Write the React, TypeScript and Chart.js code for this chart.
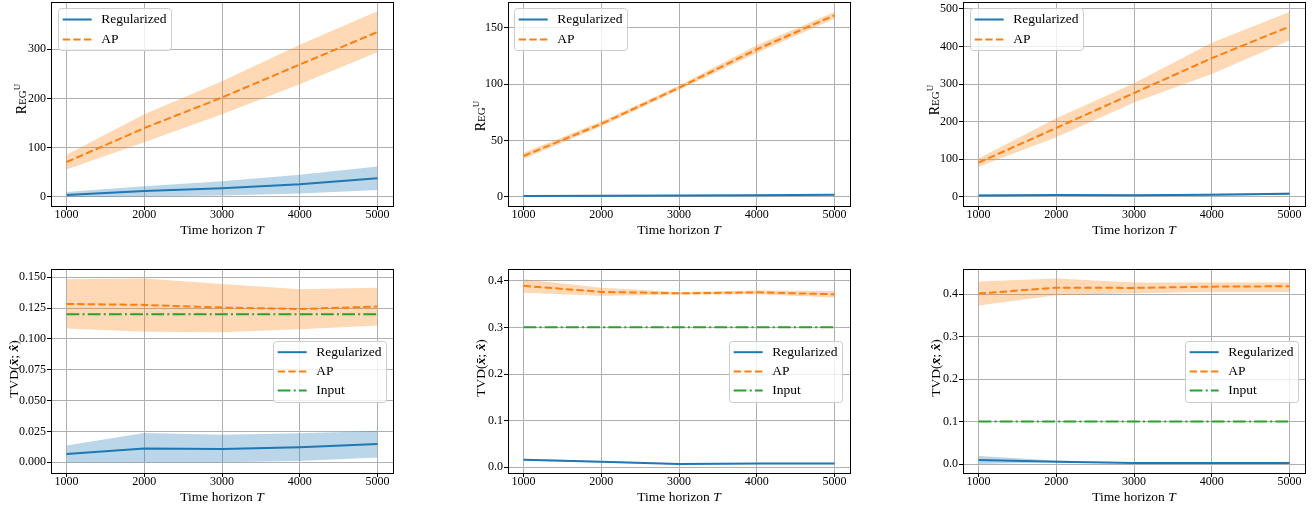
import React, { useEffect, useRef } from "react";
import { Chart, registerables } from "chart.js";
Chart.register(...registerables);

// ---------------- data ----------------
const horizons = [1000, 2000, 3000, 4000, 5000];
const xTickValues = [1000, 2000, 3000, 4000, 5000];

// Panel 1 (regret)
const reg1Mean = [4, 12, 18, 26, 38];
const reg1Lo = [0, 1, 3, 7, 14];
const reg1Hi = [10, 22, 32, 45, 62];
const ap1Mean = [71, 140, 202, 269, 335];
const ap1Lo = [56, 111, 168, 229, 294];
const ap1Hi = [86, 168, 235, 309, 377];
const yTicks1 = [0, 100, 200, 300];

// Panel 2 (regret)
const reg2Mean = [0.8, 1.0, 1.2, 1.6, 2.0];
const reg2Lo = [0.3, 0.5, 0.7, 1.0, 1.3];
const reg2Hi = [1.3, 1.5, 1.7, 2.2, 2.7];
const ap2Mean = [36.3, 64.7, 96.8, 130.8, 161];
const ap2Lo = [33.6, 62.6, 94.8, 127.5, 157.9];
const ap2Hi = [39.3, 66.8, 98.8, 134.4, 163.9];
const yTicks2 = [0, 50, 100, 150];

// Panel 3 (regret)
const reg3Mean = [3, 4.5, 3.6, 5, 8];
const reg3Lo = [0.5, 2, 1.5, 2.5, 5];
const reg3Hi = [5.5, 7, 5.7, 7.5, 11];
const ap3Mean = [90.6, 183, 276, 369, 453];
const ap3Lo = [80, 158, 251, 327, 416];
const ap3Hi = [102, 209, 302, 410, 492];
const yTicks3 = [0, 100, 200, 300, 400, 500];

// Panel 4 (TVD)
const reg4Mean = [0.0068, 0.0111, 0.0108, 0.0122, 0.0149];
const reg4Lo = [0.0, 0.0, 0.0, 0.0011, 0.0038];
const reg4Hi = [0.0135, 0.0238, 0.0224, 0.0235, 0.0254];
const ap4Mean = [0.1284, 0.1276, 0.1254, 0.1243, 0.1262];
const ap4Lo = [0.1084, 0.1059, 0.1054, 0.1078, 0.1108];
const ap4Hi = [0.1484, 0.1489, 0.1446, 0.1403, 0.1414];
const input4 = [0.12, 0.12, 0.12, 0.12, 0.12];
const yTicks4 = [0, 0.025, 0.05, 0.075, 0.1, 0.125, 0.15];

// Panel 5 (TVD)
const reg5Mean = [0.0164, 0.012, 0.007, 0.0079, 0.0079];
const reg5Lo = [0.0145, 0.0105, 0.006, 0.0068, 0.0068];
const reg5Hi = [0.0183, 0.0135, 0.008, 0.009, 0.009];
const ap5Mean = [0.389, 0.376, 0.373, 0.375, 0.371];
const ap5Lo = [0.374, 0.368, 0.37, 0.371, 0.364];
const ap5Hi = [0.403, 0.385, 0.376, 0.379, 0.378];
const input5 = [0.3, 0.3, 0.3, 0.3, 0.3];
const yTicks5 = [0, 0.1, 0.2, 0.3, 0.4];

// Panel 6 (TVD)
const reg6Mean = [0.0094, 0.0055, 0.0024, 0.0024, 0.0024];
const reg6Lo = [0.0, 0.004, 0.0015, 0.0015, 0.0015];
const reg6Hi = [0.0189, 0.008, 0.0033, 0.0033, 0.0033];
const ap6Mean = [0.4016, 0.4157, 0.415, 0.418, 0.419];
const ap6Lo = [0.3733, 0.3976, 0.4024, 0.4055, 0.4055];
const ap6Hi = [0.43, 0.437, 0.4275, 0.4275, 0.4275];
const input6 = [0.1, 0.1, 0.1, 0.1, 0.1];
const yTicks6 = [0, 0.1, 0.2, 0.3, 0.4];

const seriesLabels = ["Regularized", "AP", "Input"];
const xTitleMain = "Time horizon ";
const xTitleVar = "T";

// ---------------- styles ----------------
const FONT = '"Liberation Serif", "Times New Roman", serif';
const BLUE = "#1f77b4";
const ORANGE = "#ff7f0e";
const GREEN = "#2ca02c";
const BLUE_BAND = "rgba(31,119,180,0.3)";
const ORANGE_BAND = "rgba(255,127,14,0.3)";
const DASH = [7.4, 3.2];
const DASHDOT = [12.8, 3.2, 2, 3.2];
const AREA_W = 342;
const AREA_H = 204;
const XAXIS_H = 36;
const PAD_RIGHT = 3;

type Legend = { x: number; y: number; w: number; h: number; rowY: number[] };
type Panel = {
  left: number;
  top: number;
  yAxisW: number;
  padTop: number;
  yMin: number;
  yMax: number;
  yTicks: number[];
  dec: number;
  reg: number[][];
  ap: number[][];
  input: number[] | null;
  yLabel: "reg" | "tvd";
  yLabelX: number;
  yLabelY: number;
  legend: Legend;
};

const panels: Panel[] = [
  { left: 0, top: 0, yAxisW: 51, padTop: 2, yMin: -18.3, yMax: 396, yTicks: yTicks1, dec: 0,
    reg: [reg1Lo, reg1Mean, reg1Hi], ap: [ap1Lo, ap1Mean, ap1Hi], input: null,
    yLabel: "reg", yLabelX: 26, yLabelY: 99, legend: { x: 58, y: 8, w: 113, h: 42, rowY: [11, 31] } },
  { left: 440, top: 0, yAxisW: 68, padTop: 2, yMin: -8.0, yMax: 172.8, yTicks: yTicks2, dec: 0,
    reg: [reg2Lo, reg2Mean, reg2Hi], ap: [ap2Lo, ap2Mean, ap2Hi], input: null,
    yLabel: "reg", yLabelX: 485, yLabelY: 116, legend: { x: 514, y: 8, w: 113, h: 42, rowY: [11, 31] } },
  { left: 880, top: 0, yAxisW: 83, padTop: 2, yMin: -24.8, yMax: 518.6, yTicks: yTicks3, dec: 0,
    reg: [reg3Lo, reg3Mean, reg3Hi], ap: [ap3Lo, ap3Mean, ap3Hi], input: null,
    yLabel: "reg", yLabelX: 939, yLabelY: 100, legend: { x: 970, y: 8, w: 113, h: 42, rowY: [11, 31] } },
  { left: 0, top: 256, yAxisW: 51, padTop: 13, yMin: -0.0087, yMax: 0.1567, yTicks: yTicks4, dec: 3,
    reg: [reg4Lo, reg4Mean, reg4Hi], ap: [ap4Lo, ap4Mean, ap4Hi], input: input4,
    yLabel: "tvd", yLabelX: 17.5, yLabelY: 369, legend: { x: 273, y: 341, w: 113, h: 61, rowY: [10.7, 29.9, 49.1] } },
  { left: 440, top: 256, yAxisW: 68, padTop: 13, yMin: -0.0122, yMax: 0.4251, yTicks: yTicks5, dec: 1,
    reg: [reg5Lo, reg5Mean, reg5Hi], ap: [ap5Lo, ap5Mean, ap5Hi], input: input5,
    yLabel: "tvd", yLabelX: 484.5, yLabelY: 368, legend: { x: 729, y: 341, w: 113, h: 61, rowY: [10.7, 29.9, 49.1] } },
  { left: 880, top: 256, yAxisW: 83, padTop: 13, yMin: -0.0212, yMax: 0.4596, yTicks: yTicks6, dec: 1,
    reg: [reg6Lo, reg6Mean, reg6Hi], ap: [ap6Lo, ap6Mean, ap6Hi], input: input6,
    yLabel: "tvd", yLabelX: 940, yLabelY: 368, legend: { x: 1185, y: 341, w: 113, h: 61, rowY: [10.7, 29.9, 49.1] } },
];

type Seg = { t: string; font: string; dy?: number };

function drawRich(ctx: CanvasRenderingContext2D, segs: Seg[], cx: number, cy: number, rotate: boolean) {
  ctx.save();
  ctx.translate(cx, cy);
  if (rotate) ctx.rotate(-Math.PI / 2);
  let total = 0;
  const widths = segs.map((s) => {
    ctx.font = s.font;
    const w = ctx.measureText(s.t).width;
    total += w;
    return w;
  });
  let x = -total / 2;
  ctx.textBaseline = "alphabetic";
  ctx.textAlign = "left";
  ctx.fillStyle = "#000";
  segs.forEach((s, i) => {
    ctx.font = s.font;
    ctx.fillText(s.t, x, s.dy || 0);
    x += widths[i];
  });
  ctx.restore();
}

function pts(arr: number[]) {
  return horizons.map((x, i) => ({ x, y: arr[i] }));
}

function PanelChart({ p }: { p: Panel }) {
  const ref = useRef<HTMLCanvasElement | null>(null);
  const width = p.yAxisW + AREA_W + PAD_RIGHT;
  const height = p.padTop + AREA_H + XAXIS_H;

  useEffect(() => {
    if (!ref.current) return;
    const lineBase = { pointRadius: 0, borderWidth: 2, tension: 0, fill: false, borderCapStyle: "butt", borderJoinStyle: "round" };
    const bandBase = { pointRadius: 0, borderWidth: 0, borderColor: "transparent", tension: 0 };
    const datasets: any[] = [
      { ...lineBase, label: seriesLabels[0], data: pts(p.reg[1]), borderColor: BLUE },
      { ...lineBase, label: seriesLabels[1], data: pts(p.ap[1]), borderColor: ORANGE, borderDash: DASH },
    ];
    if (p.input) datasets.push({ ...lineBase, label: seriesLabels[2], data: pts(p.input), borderColor: GREEN, borderDash: DASHDOT });
    datasets.push(
      { ...bandBase, data: pts(p.ap[2]), fill: "+1", backgroundColor: ORANGE_BAND },
      { ...bandBase, data: pts(p.ap[0]), fill: false },
      { ...bandBase, data: pts(p.reg[2]), fill: "+1", backgroundColor: BLUE_BAND },
      { ...bandBase, data: pts(p.reg[0]), fill: false }
    );

    const rows = [
      { label: seriesLabels[0], color: BLUE, dash: [] as number[] },
      { label: seriesLabels[1], color: ORANGE, dash: DASH },
    ];
    if (p.input) rows.push({ label: seriesLabels[2], color: GREEN, dash: DASHDOT });

    const decor = {
      id: "decor",
      afterDraw(chart: any) {
        const ctx: CanvasRenderingContext2D = chart.ctx;
        const a = chart.chartArea;
        // frame
        ctx.save();
        ctx.strokeStyle = "#000";
        ctx.lineWidth = 1;
        const l = Math.round(a.left), t = Math.round(a.top), r = Math.round(a.right), b = Math.round(a.bottom);
        ctx.strokeRect(l + 0.5, t + 0.5, r - l, b - t);
        ctx.restore();
        // legend
        const lg = p.legend;
        const lx = lg.x - p.left + 0.5;
        const ly = lg.y - p.top + 0.5;
        ctx.save();
        ctx.beginPath();
        const rr = 3;
        ctx.moveTo(lx + rr, ly);
        ctx.lineTo(lx + lg.w - rr, ly);
        ctx.quadraticCurveTo(lx + lg.w, ly, lx + lg.w, ly + rr);
        ctx.lineTo(lx + lg.w, ly + lg.h - rr);
        ctx.quadraticCurveTo(lx + lg.w, ly + lg.h, lx + lg.w - rr, ly + lg.h);
        ctx.lineTo(lx + rr, ly + lg.h);
        ctx.quadraticCurveTo(lx, ly + lg.h, lx, ly + lg.h - rr);
        ctx.lineTo(lx, ly + rr);
        ctx.quadraticCurveTo(lx, ly, lx + rr, ly);
        ctx.closePath();
        ctx.fillStyle = "rgba(255,255,255,0.8)";
        ctx.fill();
        ctx.strokeStyle = "#cccccc";
        ctx.lineWidth = 1;
        ctx.stroke();
        rows.forEach((row, i) => {
          const ry = ly + lg.rowY[i];
          ctx.beginPath();
          ctx.setLineDash(row.dash);
          ctx.lineCap = "butt";
          ctx.strokeStyle = row.color;
          ctx.lineWidth = 2;
          ctx.moveTo(lx + 4.2, ry);
          ctx.lineTo(lx + 33.2, ry);
          ctx.stroke();
          ctx.setLineDash([]);
          ctx.fillStyle = "#000";
          ctx.font = `13.5px ${FONT}`;
          ctx.textBaseline = "middle";
          ctx.textAlign = "left";
          ctx.fillText(row.label, lx + 42.8, ry);
        });
        ctx.restore();
        // x title
        drawRich(
          ctx,
          [
            { t: xTitleMain, font: `13.5px ${FONT}` },
            { t: xTitleVar, font: `italic 13.5px ${FONT}` },
          ],
          (a.left + a.right) / 2,
          a.bottom + 27.5,
          false
        );
        // y title
        const segs: Seg[] =
          p.yLabel === "reg"
            ? [
                { t: "R", font: `14px ${FONT}` },
                { t: "EG", font: `11px ${FONT}` },
                { t: "U", font: `9px ${FONT}`, dy: -6.5 },
              ]
            : [
                { t: "TVD(", font: `13.5px ${FONT}` },
                { t: "x\u0304", font: `italic bold 13.5px ${FONT}` },
                { t: "; ", font: `13.5px ${FONT}` },
                { t: "x\u0302", font: `italic bold 13.5px ${FONT}` },
                { t: ")", font: `13.5px ${FONT}` },
              ];
        drawRich(ctx, segs, p.yLabelX - p.left, p.yLabelY - p.top, true);
      },
    };

    const gridOpts = { color: "#b0b0b0", lineWidth: 1, tickColor: "#000", tickLength: 4, drawTicks: true, drawOnChartArea: true };

    const chart = new Chart(ref.current, {
      type: "line",
      data: { datasets },
      options: {
        animation: false,
        responsive: false,
        maintainAspectRatio: false,
        devicePixelRatio: 1,
        layout: { padding: { left: 0, top: p.padTop, right: PAD_RIGHT, bottom: 0 } },
        plugins: { legend: { display: false }, tooltip: { enabled: false } },
        scales: {
          x: {
            type: "linear",
            min: 800,
            max: 5200,
            afterBuildTicks: (s: any) => {
              s.ticks = xTickValues.map((v) => ({ value: v }));
            },
            afterFit: (s: any) => {
              s.height = XAXIS_H;
              s.paddingLeft = 0;
              s.paddingRight = 0;
            },
            ticks: {
              autoSkip: false,
              maxRotation: 0,
              padding: 0,
              color: "#000",
              font: { family: FONT, size: 12, lineHeight: 0.8 },
              callback: (v: any) => String(v),
            },
            grid: gridOpts,
            border: { display: false },
          },
          y: {
            type: "linear",
            min: p.yMin,
            max: p.yMax,
            afterBuildTicks: (s: any) => {
              s.ticks = p.yTicks.map((v) => ({ value: v }));
            },
            afterFit: (s: any) => {
              s.width = p.yAxisW;
              s.paddingTop = 0;
              s.paddingBottom = 0;
            },
            ticks: {
              padding: 1,
              color: "#000",
              font: { family: FONT, size: 12 },
              callback: (v: any) => Number(v).toFixed(p.dec),
            },
            grid: gridOpts,
            border: { display: false },
          },
        },
      } as any,
      plugins: [decor as any],
    });
    return () => chart.destroy();
  }, [p]);

  return (
    <canvas
      ref={ref}
      width={width}
      height={height}
      style={{ position: "absolute", left: p.left, top: p.top, width, height }}
    />
  );
}

export default function App() {
  return (
    <div style={{ position: "absolute", left: 0, top: 0, width: 1312, height: 512, background: "#fff", overflow: "hidden" }}>
      {panels.map((p, i) => (
        <PanelChart key={i} p={p} />
      ))}
    </div>
  );
}
